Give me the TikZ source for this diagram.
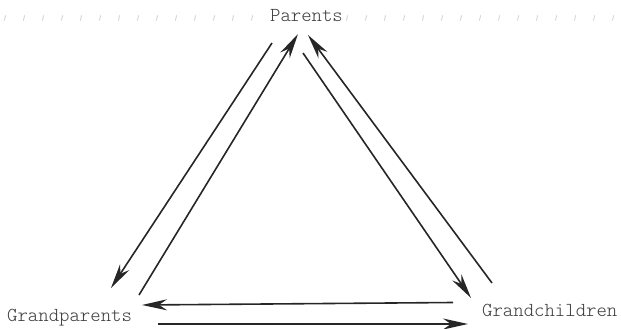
\documentclass[tikz,border=0pt]{standalone}
\usepackage{fontspec}
\setmonofont{Latin Modern Mono Light}
\usetikzlibrary{arrows.meta}
\definecolor{ink}{HTML}{262626}
\definecolor{txt}{HTML}{3C3C3C}
\begin{document}
\begin{tikzpicture}[x=1pt,y=-1pt,
  label/.style={inner sep=0pt,font=\ttfamily\fontsize{19.8}{22}\selectfont,text=txt},
  flow/.style={draw=ink,line width=1.6pt,-{Stealth[length=25pt,width=11pt,inset=8pt]}},
  tick/.style={draw=black!25,line width=0.6pt}]
\useasboundingbox (0,0) rectangle (621,329);
% faint ruler ticks
\foreach \k in {0,...,32}{
  \pgfmathsetmacro{\xx}{5+19*\k}
  \ifnum\k<14 \draw[tick] (\xx+0.5,15.5) -- (\xx-0.5,20.5);\fi
  \ifnum\k>17 \draw[tick] (\xx+0.5,15.5) -- (\xx-0.5,20.5);\fi
}
\node[label,anchor=base] (par) at (306.5,22) {Parents};
\node[label,anchor=base west] (gp) at (7,321.7) {Grandparents};
\node[label,anchor=base west] (gc) at (482,316.7) {Grandchildren};
% arrow end points
\coordinate (a1) at (272,43);  \coordinate (a2) at (111,288);
\coordinate (b1) at (139,295); \coordinate (b2) at (298,34);
\coordinate (c1) at (492,283); \coordinate (c2) at (308,35);
\coordinate (d1) at (303,53);  \coordinate (d2) at (471,298);
\coordinate (e1) at (453,302.5); \coordinate (e2) at (142,305);
\coordinate (f1) at (158,324); \coordinate (f2) at (468,324);
\draw[flow] (a1) -- (a2);
\draw[flow] (b1) -- (b2);
\draw[flow] (c1) -- (c2);
\draw[flow] (d1) -- (d2);
\draw[flow] (e1) -- (e2);
\draw[flow] (f1) -- (f2);
\end{tikzpicture}
\end{document}
